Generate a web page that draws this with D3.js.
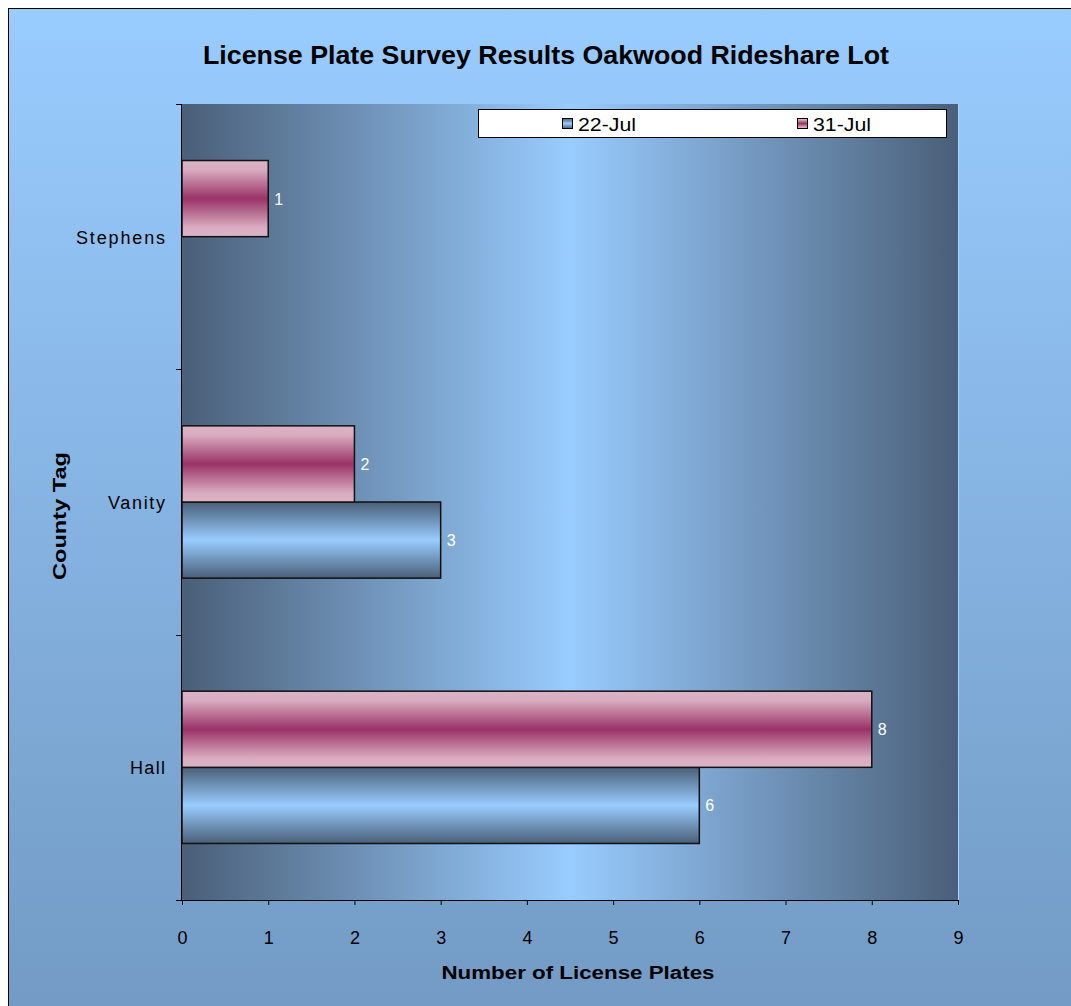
<!DOCTYPE html>
<html><head><meta charset="utf-8">
<script src="https://cdn.jsdelivr.net/npm/d3@7"></script>
<style>html,body{margin:0;padding:0;background:#fff;overflow:hidden}</style>
</head><body>
<svg id="c" width="1071" height="1006"></svg>
<script>
const categories = ["Hall", "Vanity", "Stephens"];
const seriesNames = ["22-Jul", "31-Jul"];
const jul22 = [6, 3, null];
const jul31 = [8, 2, 1];
const xTicks = [0,1,2,3,4,5,6,7,8,9];
const title = "License Plate Survey Results Oakwood Rideshare Lot";
const xTitle = "Number of License Plates";
const yTitle = "County Tag";

const svg = d3.select("#c");
const defs = svg.append("defs");
const font = "'Liberation Sans', Arial, sans-serif";

const bg = defs.append("linearGradient").attr("id","bg").attr("x1",0).attr("y1",0).attr("x2",0).attr("y2",1);
bg.append("stop").attr("offset","0%").attr("stop-color","#99ccff");
bg.append("stop").attr("offset","100%").attr("stop-color","#729ac4");
const pg = defs.append("linearGradient").attr("id","pg").attr("x1",0).attr("y1",0).attr("x2",1).attr("y2",0);
[[0,"#4a5f78"],[0.5,"#99ccff"],[1,"#4a5f78"]].forEach(([o,c])=>pg.append("stop").attr("offset",o).attr("stop-color",c));
const g1 = defs.append("linearGradient").attr("id","g22").attr("x1",0).attr("y1",0).attr("x2",0).attr("y2",1);
[[0,"#4a5f78"],[0.5,"#99ccff"],[1,"#4a5f78"]].forEach(([o,c])=>g1.append("stop").attr("offset",o).attr("stop-color",c));
const g2 = defs.append("linearGradient").attr("id","g31").attr("x1",0).attr("y1",0).attr("x2",0).attr("y2",1);
[[0,"#ddb3c6"],[0.12,"#d9acc0"],[0.5,"#993366"],[0.88,"#d9acc0"],[1,"#ddb3c6"]].forEach(([o,c])=>g2.append("stop").attr("offset",o).attr("stop-color",c));

svg.append("rect").attr("x",8.5).attr("y",8.5).attr("width",1080).attr("height",1010)
  .attr("fill","url(#bg)").attr("stroke","#000").attr("stroke-width",1);

const L=182, R=958, T=104, B=900;
const x = d3.scaleLinear().domain([0,9]).range([L,R]);
const y = d3.scaleBand().domain(categories.slice().reverse()).range([T,B]).paddingInner(0.426).paddingOuter(0.213);
const fills = ["url(#g22)","url(#g31)"];

svg.append("rect").attr("x",L).attr("y",T).attr("width",R-L).attr("height",B-T).attr("fill","url(#pg)");
svg.append("line").attr("x1",R+0.5).attr("x2",R+0.5).attr("y1",T).attr("y2",B).attr("stroke","#a8d4ff").attr("stroke-width",1);

const band = y.bandwidth();
const sub = d3.scaleBand().domain(["31-Jul","22-Jul"]).range([0,band]);
const data = [];
categories.forEach((c,i)=>{
  data.push({cat:c, s:"22-Jul", v:jul22[i]});
  data.push({cat:c, s:"31-Jul", v:jul31[i]});
});
const bars = data.filter(d=>d.v!=null);
svg.append("g").selectAll("rect").data(bars).join("rect")
  .attr("x",x(0)).attr("y",d=>y(d.cat)+sub(d.s))
  .attr("width",d=>x(d.v)-x(0)).attr("height",sub.bandwidth())
  .attr("fill",d=>d.s==="22-Jul"?fills[0]:fills[1])
  .attr("stroke","#111").attr("stroke-width",1.5);
svg.append("g").selectAll("text").data(bars).join("text")
  .attr("x",d=>x(d.v)+6).attr("y",d=>y(d.cat)+sub(d.s)+sub.bandwidth()/2+6)
  .attr("fill","#fff").attr("font-family",font).attr("font-size",16).text(d=>d.v);

// x axis
const xa = svg.append("g").attr("transform",`translate(0,${B})`)
  .call(d3.axisBottom(x).tickValues(xTicks).tickSize(5).tickSizeOuter(0).tickFormat(d3.format("d")));
xa.select(".domain").attr("stroke","#000").attr("d",`M${L-6},0.5H${R+1}`);
xa.selectAll(".tick line").attr("stroke","#000");
xa.selectAll("text").attr("font-family",font).attr("font-size",18).attr("fill","#000").attr("y",0).attr("dy",44);

// y axis
const yEdges = [T, T+(B-T)/3, T+2*(B-T)/3, B];
const ya = svg.append("g");
ya.append("line").attr("x1",L-0.5).attr("x2",L-0.5).attr("y1",T).attr("y2",B).attr("stroke","#000");
ya.selectAll("line.t").data(yEdges).join("line").attr("class","t")
  .attr("x1",L-6).attr("x2",L).attr("y1",d=>Math.round(d)+0.5).attr("y2",d=>Math.round(d)+0.5).attr("stroke","#000");
const catW = {"Stephens":89, "Vanity":57, "Hall":35};
ya.selectAll("text").data(categories).join("text")
  .attr("x",165).attr("y",d=>y(d)+band/2+7).attr("text-anchor","end")
  .attr("font-family",font).attr("font-size",18)
  .attr("textLength",d=>catW[d]).attr("lengthAdjust","spacing").text(d=>d);

// titles
svg.append("text").attr("x",546).attr("y",64).attr("text-anchor","middle")
  .attr("font-family",font).attr("font-weight","bold").attr("font-size",26).attr("textLength",686).attr("lengthAdjust","spacingAndGlyphs").text(title);
svg.append("text").attr("x",578).attr("y",979).attr("text-anchor","middle")
  .attr("font-family",font).attr("font-weight","bold").attr("font-size",18)
  .attr("textLength",273).attr("lengthAdjust","spacingAndGlyphs").text(xTitle);
svg.append("text").attr("transform","translate(66,516) rotate(-90)").attr("text-anchor","middle")
  .attr("font-family",font).attr("font-weight","bold").attr("font-size",18)
  .attr("textLength",128).attr("lengthAdjust","spacingAndGlyphs").text(yTitle);

// legend
const lg = svg.append("g");
lg.append("rect").attr("x",478.5).attr("y",109.5).attr("width",468).attr("height",28).attr("fill","#fff").attr("stroke","#000");
const lx = [562, 797];
seriesNames.forEach((s,i)=>{
  lg.append("rect").attr("x",lx[i]+0.5).attr("y",118.5).attr("width",10).attr("height",10)
    .attr("fill",fills[i]).attr("stroke","#000");
  lg.append("text").attr("x",lx[i]+16).attr("y",131).attr("font-family",font).attr("font-size",18)
    .attr("textLength",58).attr("lengthAdjust","spacingAndGlyphs").text(s);
});
</script>
</body></html>
